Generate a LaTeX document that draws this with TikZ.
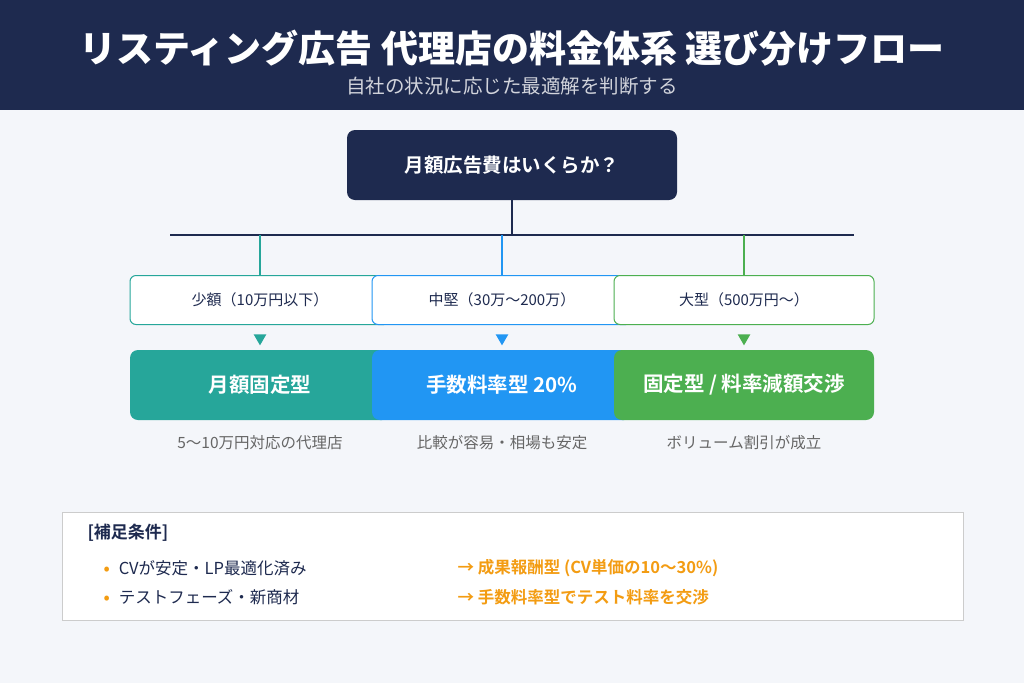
\documentclass[tikz,border=0pt]{standalone}
\usepackage{fontspec}
\setmainfont{Noto Sans CJK JP}[BoldFont={Noto Sans CJK JP Bold}]
\newfontfamily\heavyfont{Noto Sans CJK JP Black}
\usepackage{tikz}
\usetikzlibrary{positioning,arrows.meta,shapes.geometric}
\definecolor{navy}{HTML}{1E2A4F}
\definecolor{bggray}{HTML}{F4F6FA}
\definecolor{tealc}{HTML}{26A69A}
\definecolor{bluec}{HTML}{2196F3}
\definecolor{greenc}{HTML}{4CAF50}
\definecolor{capgray}{HTML}{666666}
\definecolor{orangec}{HTML}{F39C12}
\tikzset{
  cond/.style={draw=#1, line width=1pt, fill=white, rounded corners=6pt,
    minimum width=260pt, minimum height=49pt, font=\fontsize{15}{17}\selectfont, text=navy},
  plan/.style={fill=#1, rounded corners=8pt, minimum width=260pt, minimum height=70pt,
    font=\bfseries\fontsize{20.5}{24}\selectfont, text=white},
  caption/.style={font=\fontsize{15.5}{18}\selectfont, text=capgray},
  tri/.style={fill=#1, isosceles triangle, shape border rotate=-90, isosceles triangle apex angle=60,
    inner sep=0pt, minimum size=11pt},
  note/.style={anchor=west, font=\fontsize{16.5}{19}\selectfont, text=navy},
  hl/.style={anchor=west, font=\bfseries\fontsize{16.5}{19}\selectfont, text=orangec}
}
\begin{document}
\begin{tikzpicture}[x=1pt,y=-1pt]
  \useasboundingbox (0,0) rectangle (1024,683);
  \fill[bggray] (0,0) rectangle (1024,683);
  \fill[navy] (0,0) rectangle (1024,110);
  \node[text=white, font=\heavyfont\fontsize{37}{42}\selectfont] (title) at (512,48)
    {リスティング広告 代理店の料金体系 選び分けフロー};
  \node[text=white!80!navy, font=\fontsize{19.5}{22}\selectfont] (sub) at (512,86)
    {自社の状況に応じた最適解を判断する};
  % question
  \node[fill=navy, rounded corners=8pt, minimum width=330pt, minimum height=70pt,
    text=white, font=\bfseries\fontsize{19.5}{23}\selectfont] (q) at (512,165) {月額広告費はいくらか？};
  \coordinate (hub) at (512,235);
  \draw[navy, line width=2.5pt] (q.south) -- (hub);
  \draw[navy, line width=2.5pt] (170,235) -- (854,235);
  % branches
  \node[cond=tealc] (c1) at (260,300) {少額（10万円以下）};
  \node[cond=bluec] (c2) at (502,300) {中堅（30万〜200万）};
  \node[cond=greenc] (c3) at (744,300) {大型（500万円〜）};
  \draw[tealc, line width=2pt] (c1.north|-hub) -- (c1.north);
  \draw[bluec, line width=2pt] (c2.north|-hub) -- (c2.north);
  \draw[greenc, line width=2pt] (c3.north|-hub) -- (c3.north);
  \node[tri=tealc] (t1) at (260,338) {};
  \node[tri=bluec] (t2) at (502,338) {};
  \node[tri=greenc] (t3) at (744,338) {};
  \node[plan=tealc] (p1) at (260,385) {月額固定型};
  \node[plan=bluec] (p2) at (502,385) {手数料率型 20\%};
  \node[plan=greenc] (p3) at (744,385) {固定型 / 料率減額交渉};
  \node[caption] (k1) at (260,443) {5〜10万円対応の代理店};
  \node[caption] (k2) at (502,443) {比較が容易・相場も安定};
  \node[caption] (k3) at (744,443) {ボリューム割引が成立};
  % notes
  \node[draw=black!20, line width=1pt, fill=white, minimum width=901pt, minimum height=108pt] (box) at (512.5,566) {};
  \node[anchor=west, text=navy, font=\bfseries\fontsize{17}{19}\selectfont] (nt) at (84,533) {[補足条件]};
  \node[note] (n1) at (100,568) {{\color{orangec}\bfseries •}\hspace{9pt}CVが安定・LP最適化済み};
  \node[note] (n2) at (100,597) {{\color{orangec}\bfseries •}\hspace{9pt}テストフェーズ・新商材};
  \node[hl] (h1) at (454,568) {→ 成果報酬型 (CV単価の10〜30\%)};
  \node[hl] (h2) at (454,597) {→ 手数料率型でテスト料率を交渉};
\end{tikzpicture}
\end{document}
